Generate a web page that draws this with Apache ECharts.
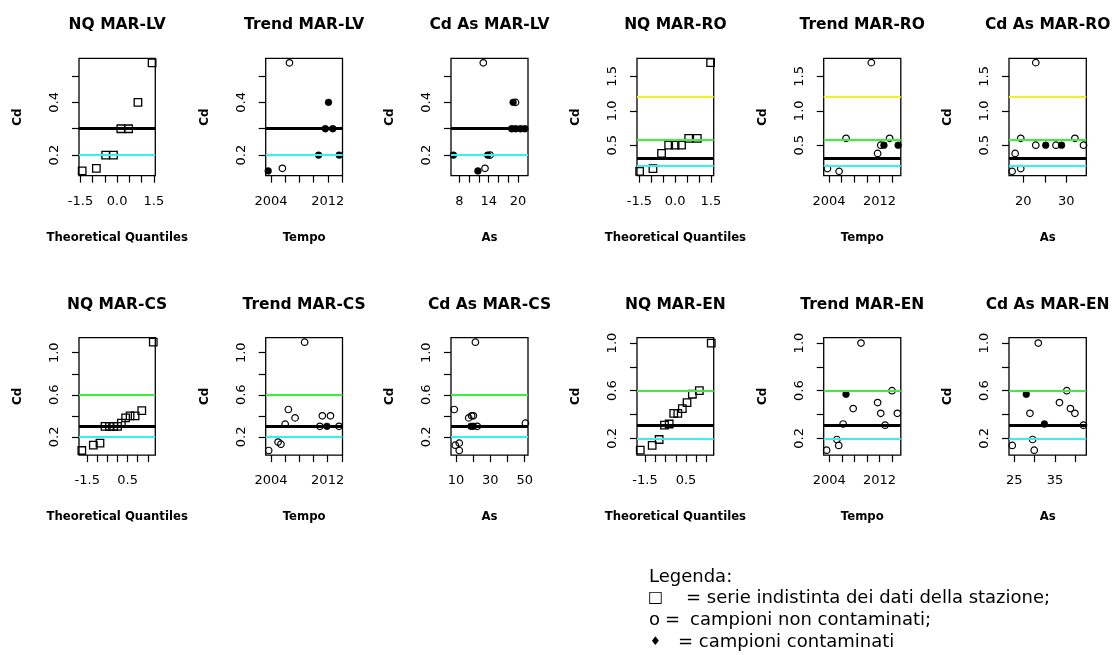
<!DOCTYPE html>
<html>
<head>
<meta charset="utf-8">
<script src="https://cdn.jsdelivr.net/npm/echarts@6.0.0/dist/echarts.min.js"></script>
<style>
  html, body { margin: 0; padding: 0; background: #ffffff; }
  #chart { width: 1112px; height: 655px; }
</style>
</head>
<body>
<div id="chart"></div>
<script>
// ---------- Cd values per station ----------
// MAR-LV
const lvQuant    = [-1.43, -0.85, -0.47, -0.15, 0.15, 0.47, 0.85, 1.43];
const lvCdSorted = [0.14, 0.15, 0.20, 0.20, 0.30, 0.30, 0.40, 0.55];
const lvTrendOpen   = [[2005.6, 0.15], [2006.6, 0.55]];
const lvTrendFilled = [[2003.6, 0.14], [2010.7, 0.20], [2011.65, 0.30], [2012.1, 0.40], [2012.7, 0.30], [2013.6, 0.20]];
const lvAsOpen   = [[12.9, 0.55], [19.5, 0.40], [14.3, 0.20], [13.25, 0.15]];
const lvAsFilled = [[19.0, 0.40], [18.7, 0.30], [19.5, 0.30], [20.5, 0.30], [21.4, 0.30], [6.8, 0.20], [13.8, 0.20], [11.8, 0.14]];

// MAR-RO
const roQuant    = [-1.49, -0.93, -0.57, -0.27, 0, 0.27, 0.57, 0.93, 1.49];
const roCdSorted = [0.12, 0.16, 0.38, 0.50, 0.50, 0.50, 0.60, 0.60, 1.70];
const roTrendOpen   = [[2003.75, 0.16], [2005.6, 0.12], [2006.7, 0.60], [2010.7, 1.70], [2011.7, 0.38], [2012.2, 0.50], [2013.6, 0.60]];
const roTrendFilled = [[2012.7, 0.50], [2014.95, 0.50]];
const roAsOpen   = [[17.4, 0.12], [18.1, 0.38], [19.4, 0.16], [19.4, 0.60], [22.9, 1.70], [22.9, 0.50], [27.6, 0.50], [32.0, 0.60], [34.0, 0.50]];
const roAsFilled = [[25.2, 0.50], [28.9, 0.50]];

// MAR-CS
const csQuant    = [-1.77, -1.20, -0.87, -0.62, -0.40, -0.19, 0, 0.19, 0.40, 0.62, 0.87, 1.20, 1.77];
const csCdSorted = [0.07, 0.12, 0.14, 0.30, 0.30, 0.30, 0.30, 0.33, 0.38, 0.40, 0.40, 0.45, 1.10];
const csTrendOpen   = [[2003.67, 0.07], [2005.0, 0.15], [2005.4, 0.13], [2006.0, 0.32], [2006.45, 0.46], [2007.4, 0.38], [2008.75, 1.10], [2010.9, 0.30], [2011.25, 0.40], [2012.4, 0.40], [2013.6, 0.30]];
const csTrendFilled = [[2011.9, 0.30]];
const csAsOpen   = [[9.0, 0.46], [9.6, 0.12], [11.9, 0.14], [11.9, 0.07], [17.4, 0.38], [19.1, 0.40], [20.1, 0.40], [21.3, 1.10], [22.4, 0.30], [50.4, 0.33]];
const csAsFilled = [[18.7, 0.30], [20.1, 0.30]];

// MAR-EN
const enQuant    = [-1.73, -1.15, -0.81, -0.55, -0.32, -0.10, 0.10, 0.32, 0.55, 0.81, 1.15, 1.73];
const enCdSorted = [0.10, 0.14, 0.19, 0.31, 0.32, 0.41, 0.41, 0.45, 0.50, 0.57, 0.60, 1.00];
const enTrendOpen   = [[2003.57, 0.10], [2005.2, 0.19], [2005.5, 0.14], [2006.2, 0.32], [2007.8, 0.45], [2009.05, 1.00], [2011.7, 0.50], [2012.2, 0.41], [2012.9, 0.31], [2014.0, 0.60], [2014.85, 0.41]];
const enTrendFilled = [[2006.66, 0.57]];
const enAsOpen   = [[24.5, 0.14], [29.5, 0.19], [29.9, 0.10], [28.85, 0.41], [30.9, 1.00], [36.1, 0.50], [37.9, 0.60], [38.8, 0.45], [39.9, 0.41], [42.0, 0.31]];
const enAsFilled = [[27.95, 0.57], [32.4, 0.32]];

// ---------- reference levels ----------
const lvLevels = [0.3, 0.2];
const roLevels = [1.2, 0.58, 0.31, 0.2];
const csLevels = [0.6, 0.3, 0.2];
const enLevels = [0.6, 0.31, 0.2];

// ---------- tick values and tick labels ----------
const qqTicks        = [-1.5, -1.0, -0.5, 0, 0.5, 1.0, 1.5];
const qqLabelsWide   = [-1.5, 0, 1.5];
const qqLabelsNarrow = [-1.5, 0.5];
const yearTicks      = [2004, 2006, 2008, 2010, 2012, 2014];
const yearLabels     = [2004, 2012];
const lvAsTicks  = [8, 10, 12, 14, 16, 18, 20];
const lvAsLabels = [8, 14, 20];
const roAsTicks  = [20, 25, 30];
const roAsLabels = [20, 30];
const csAsTicks  = [10, 20, 30, 40, 50];
const csAsLabels = [10, 30, 50];
const enAsTicks  = [25, 30, 35, 40];
const enAsLabels = [25, 35];
const lvCdTicks  = [0.2, 0.3, 0.4, 0.5];
const lvCdLabels = [0.2, 0.4];
const roCdTicks  = [0.5, 1.0, 1.5];
const roCdLabels = [0.5, 1.0, 1.5];
const csCdTicks  = [0.2, 0.4, 0.6, 0.8, 1.0];
const csCdLabels = [0.2, 0.6, 1.0];

// ---------- styling ----------
const FONT = '"DejaVu Sans", "Liberation Sans", Arial, sans-serif';
const levelStyle = {
  1.2:  { color: '#f0ec3a', width: 2 },
  0.6:  { color: '#3cef3c', width: 2 },
  0.58: { color: '#3cef3c', width: 2 },
  0.3:  { color: '#000000', width: 2.8 },
  0.31: { color: '#000000', width: 2.8 },
  0.2:  { color: '#33f2f2', width: 2 }
};

// value ranges of each plot box
const lvY = { min: 0.122, max: 0.567, ticks: lvCdTicks, labels: lvCdLabels };
const roY = { min: 0.057, max: 1.763, ticks: roCdTicks, labels: roCdLabels };
const csY = { min: 0.026, max: 1.143, ticks: csCdTicks, labels: csCdLabels };
const enY = { min: 0.059, max: 1.045, ticks: csCdTicks, labels: csCdLabels };

const panels = [
  { title: 'NQ MAR-LV',    xName: 'Theoretical Quantiles', kind: 'nq', quant: lvQuant, cd: lvCdSorted,
    x: { min: -1.56, max: 1.56, ticks: qqTicks, labels: qqLabelsWide, dec: 1 }, y: lvY, levels: lvLevels },
  { title: 'Trend MAR-LV', xName: 'Tempo', kind: 'pts', open: lvTrendOpen, filled: lvTrendFilled,
    x: { min: 2003.25, max: 2014.07, ticks: yearTicks, labels: yearLabels, dec: 0 }, y: lvY, levels: lvLevels },
  { title: 'Cd As MAR-LV', xName: 'As', kind: 'pts', open: lvAsOpen, filled: lvAsFilled,
    x: { min: 6.3, max: 22.04, ticks: lvAsTicks, labels: lvAsLabels, dec: 0 }, y: lvY, levels: lvLevels },
  { title: 'NQ MAR-RO',    xName: 'Theoretical Quantiles', kind: 'nq', quant: roQuant, cd: roCdSorted,
    x: { min: -1.6, max: 1.62, ticks: qqTicks, labels: qqLabelsWide, dec: 1 }, y: roY, levels: roLevels },
  { title: 'Trend MAR-RO', xName: 'Tempo', kind: 'pts', open: roTrendOpen, filled: roTrendFilled,
    x: { min: 2003.16, max: 2015.37, ticks: yearTicks, labels: yearLabels, dec: 0 }, y: roY, levels: roLevels },
  { title: 'Cd As MAR-RO', xName: 'As', kind: 'pts', open: roAsOpen, filled: roAsFilled,
    x: { min: 16.67, max: 34.65, ticks: roAsTicks, labels: roAsLabels, dec: 0 }, y: roY, levels: roLevels },

  { title: 'NQ MAR-CS',    xName: 'Theoretical Quantiles', kind: 'nq', quant: csQuant, cd: csCdSorted,
    x: { min: -1.91, max: 1.87, ticks: qqTicks, labels: qqLabelsNarrow, dec: 1 }, y: csY, levels: csLevels },
  { title: 'Trend MAR-CS', xName: 'Tempo', kind: 'pts', open: csTrendOpen, filled: csTrendFilled,
    x: { min: 2003.25, max: 2014.1, ticks: yearTicks, labels: yearLabels, dec: 0 }, y: csY, levels: csLevels },
  { title: 'Cd As MAR-CS', xName: 'As', kind: 'pts', open: csAsOpen, filled: csAsFilled,
    x: { min: 7.1, max: 51.9, ticks: csAsTicks, labels: csAsLabels, dec: 0 }, y: csY, levels: csLevels },
  { title: 'NQ MAR-EN',    xName: 'Theoretical Quantiles', kind: 'nq', quant: enQuant, cd: enCdSorted,
    x: { min: -1.89, max: 1.85, ticks: qqTicks, labels: qqLabelsNarrow, dec: 1 }, y: enY, levels: enLevels },
  { title: 'Trend MAR-EN', xName: 'Tempo', kind: 'pts', open: enTrendOpen, filled: enTrendFilled,
    x: { min: 2003.1, max: 2015.4, ticks: yearTicks, labels: yearLabels, dec: 0 }, y: enY, levels: enLevels },
  { title: 'Cd As MAR-EN', xName: 'As', kind: 'pts', open: enAsOpen, filled: enAsFilled,
    x: { min: 23.7, max: 42.7, ticks: enAsTicks, labels: enAsLabels, dec: 0 }, y: enY, levels: enLevels }
];

// plot box layout (pixels): 6 columns x 2 rows
const boxLeft  = [79, 265.7, 451, 637, 823.7, 1009];
const boxRight = [155.3, 342.5, 528, 713.7, 900.8, 1086.3];
const rowTop = [58.3, 337.7];
const rowHeight = 117.4;
const titleY = [25, 305];

const grids = [], xAxes = [], yAxes = [], series = [], graphics = [];

panels.forEach(function (p, i) {
  const col = i % 6, row = Math.floor(i / 6);
  const left = boxLeft[col], width = boxRight[col] - boxLeft[col];
  grids.push({
    left: left, top: rowTop[row], width: width, height: rowHeight,
    show: true, borderColor: '#000', borderWidth: 1.3, backgroundColor: 'transparent'
  });
  xAxes.push({
    type: 'value', gridIndex: i, min: p.x.min, max: p.x.max,
    axisLine: { show: false, onZero: false },
    splitLine: { show: false },
    axisTick: { show: true, length: 7, lineStyle: { color: '#000', width: 1.2 }, customValues: p.x.ticks },
    axisLabel: {
      customValues: p.x.labels, margin: 19, color: '#000', fontSize: 13, fontFamily: FONT,
      formatter: (function (dec) { return function (v) { return Number(v).toFixed(dec); }; })(p.x.dec)
    },
    name: p.xName, nameLocation: 'middle', nameGap: 56,
    nameTextStyle: { color: '#000', fontSize: 11.7, fontWeight: 'bold', fontFamily: FONT }
  });
  yAxes.push({
    type: 'value', gridIndex: i, min: p.y.min, max: p.y.max,
    axisLine: { show: false, onZero: false },
    splitLine: { show: false },
    axisTick: { show: true, length: 7, lineStyle: { color: '#000', width: 1.2 }, customValues: p.y.ticks },
    axisLabel: {
      customValues: p.y.labels, rotate: 90, margin: 18, color: '#000', fontSize: 13, fontFamily: FONT,
      formatter: function (v) { return Number(v).toFixed(1); }
    },
    name: 'Cd', nameLocation: 'middle', nameGap: 55, nameRotate: 90,
    nameTextStyle: { color: '#000', fontSize: 12, fontWeight: 'bold', fontFamily: FONT }
  });

  const markLine = {
    silent: true, symbol: ['none', 'none'], label: { show: false }, animation: false,
    data: p.levels.map(function (v) {
      const s = levelStyle[v];
      return { yAxis: v, lineStyle: { color: s.color, width: s.width, type: 'solid', opacity: 1 } };
    })
  };

  if (p.kind === 'nq') {
    series.push({
      type: 'scatter', xAxisIndex: i, yAxisIndex: i,
      data: p.quant.map(function (q, k) { return [q, p.cd[k]]; }),
      symbol: 'rect', symbolSize: 7.5,
      itemStyle: { color: 'rgba(0,0,0,0)', borderColor: '#000', borderWidth: 1.3, opacity: 1 },
      markLine: markLine
    });
  } else {
    series.push({
      type: 'scatter', xAxisIndex: i, yAxisIndex: i, data: p.open,
      symbol: 'circle', symbolSize: 6.5,
      itemStyle: { color: 'rgba(0,0,0,0)', borderColor: '#000', borderWidth: 1.2, opacity: 1 },
      markLine: markLine
    });
    series.push({
      type: 'scatter', xAxisIndex: i, yAxisIndex: i, data: p.filled,
      symbol: 'circle', symbolSize: 6.8,
      itemStyle: { color: '#000', borderColor: '#000', borderWidth: 0.5, opacity: 1 }
    });
  }

  graphics.push({
    type: 'text', x: left + width / 2, y: titleY[row],
    style: { text: p.title, font: 'bold 15.5px ' + FONT, fill: '#000', textAlign: 'center', textVerticalAlign: 'middle' }
  });
});

// legend block
const legendFont = '18px ' + FONT;
function legendText(x, y, text, font) {
  return { type: 'text', x: x, y: y, style: { text: text, font: font || legendFont, fill: '#000', textAlign: 'left', textVerticalAlign: 'middle' } };
}
graphics.push(legendText(649, 577, 'Legenda:'));
graphics.push(legendText(648, 598, '\u25A1', '16px ' + FONT));
graphics.push(legendText(686, 598, '= serie indistinta dei dati della stazione;'));
graphics.push(legendText(649, 620, 'o'));
graphics.push(legendText(665, 620, '='));
graphics.push(legendText(690, 620, 'campioni non contaminati;'));
graphics.push(legendText(650, 642, '\u2666', '12px ' + FONT));
graphics.push(legendText(678, 642, '= campioni contaminati'));

const chart = echarts.init(document.getElementById('chart'), null, { renderer: 'canvas' });
chart.setOption({
  backgroundColor: '#ffffff',
  animation: false,
  grid: grids,
  xAxis: xAxes,
  yAxis: yAxes,
  series: series,
  graphic: graphics
});
</script>
</body>
</html>
